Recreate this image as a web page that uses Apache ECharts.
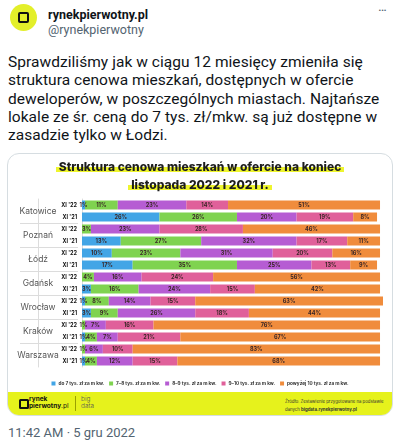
<!DOCTYPE html>
<html><head><meta charset="utf-8">
<script src="https://cdn.jsdelivr.net/npm/echarts@6/dist/echarts.min.js"></script>
<style>
html,body{margin:0;padding:0;background:#fff;}
body{width:400px;height:448px;position:relative;overflow:hidden;font-family:Roboto,"Noto Sans",sans-serif;color:#0f1419;}
.abs{position:absolute;}
#avatar{left:10px;top:4px;width:27px;height:27px;border-radius:50%;background:#e3ef2a;}
#avatar .ic{position:absolute;left:8px;top:8px;width:7px;height:7px;border:2.5px solid #111;border-radius:2px;}
#name{left:48px;top:7px;font-weight:bold;font-size:12.5px;}
#handle{left:48px;top:22px;font-size:12.5px;color:#536471;}
#dots{left:378px;top:3px;font-size:14px;color:#536471;letter-spacing:-1px;}
#text{left:8px;top:53px;font-size:15.5px;line-height:18.3px;white-space:nowrap;letter-spacing:0.05px;}
#card{left:7px;top:153px;width:384px;height:261px;border:1px solid #d6dde1;border-radius:12px;overflow:hidden;}
#title{left:0;top:4px;width:384px;text-align:center;font-family:Inter,"Noto Sans",sans-serif;font-weight:800;font-size:12px;line-height:17.5px;color:#1d1d1d;letter-spacing:0;}
#title span{background:linear-gradient(to bottom,transparent 55%,#eef52e 55%,#eef52e 90%,transparent 90%);padding:0 3px;}
#chart{left:0;top:0;width:384px;height:239px;}
#footer{left:0;top:238px;width:384px;height:23px;background:#e6f21c;}
#time{left:8px;top:425px;font-size:13px;color:#536471;}
</style></head>
<body>
<div id="avatar" class="abs"><div class="ic"></div></div>
<div id="name" class="abs">rynekpierwotny.pl</div>
<div id="handle" class="abs">@rynekpierwotny</div>
<div id="dots" class="abs">···</div>
<div id="text" class="abs">Sprawdziliśmy jak w ciągu 12 miesięcy zmieniła się<br>struktura cenowa mieszkań, dostępnych w ofercie<br>deweloperów, w poszczególnych miastach. Najtańsze<br>lokale ze śr. ceną do 7 tys. zł/mkw. są już dostępne w<br>zasadzie tylko w Łodzi.</div>
<div id="card" class="abs">
  <div id="chart" class="abs"></div>
  <div id="title" class="abs"><span>Struktura cenowa mieszkań w ofercie na koniec</span><br><span>listopada 2022 i 2021 r.</span></div>
  <div id="footer" class="abs">
    <div class="abs" style="left:11px;top:7px;width:6px;height:6px;border:2px solid #111;border-radius:1.5px;"></div>
    <div class="abs" style="left:21px;top:4px;font-family:Inter,sans-serif;font-weight:700;font-size:6.5px;line-height:7px;color:#111;">rynek<br>pierwotny<span style="font-weight:400">.pl</span></div>
    <div class="abs" style="left:67px;top:4px;width:1px;height:15px;background:#9aa100;"></div>
    <div class="abs" style="left:73px;top:4px;font-family:Inter,sans-serif;font-weight:300;font-size:6.5px;line-height:7px;color:#555;">big<br>data</div>
    <div class="abs" style="left:277px;top:6px;font-family:Inter,sans-serif;font-size:4.3px;line-height:8px;color:#333;white-space:nowrap;">Źródło: Zestawienie przygotowane na podstawie<br>danych <b>bigdata.rynekpierwotny.pl</b></div>
  </div>
</div>
<div id="time" class="abs">11:42 AM · 5 gru 2022</div>
<script>
const cities = ['Katowice','Poznań','Łódź','Gdańsk','Wrocław','Kraków','Warszawa'];
const periods = ["XI '22","XI '21"];
const seriesNames = ['do 7 tys. zł za m kw.','7–8 tys. zł za m kw.','8–9 tys. zł za m kw.','9–10 tys. zł za m kw.','powyżej 10 tys. zł za m kw.'];
const upTo7 =   [1,26,0,13,10,17,0,3,1,3,0,1,0,1];
const from7to8 =[11,26,3,27,23,35,4,16,8,9,1,4,1,4];
const from8to9 =[23,20,23,32,31,25,16,24,14,26,7,7,6,12];
const from9to10=[14,19,28,17,20,13,24,15,15,18,16,21,10,15];
const above10 = [51,8,46,11,16,9,56,42,63,44,76,67,83,68];
const colors = ['#42a5e6','#7fd350','#b65cd3','#e0609a','#f08c3c'];

const rowLabels = [];
cities.forEach(() => periods.forEach(p => rowLabels.push(p)));
const values = [upTo7, from7to8, from8to9, from9to10, above10];

const chart = echarts.init(document.getElementById('chart'));
const lbl = {
  show: true, position: 'inside', fontSize: 5.5, fontWeight: 'bold',
  fontFamily: 'Inter, sans-serif', color: '#3a2626',
  formatter: p => p.value > 0 ? p.value + '%' : ''
};
chart.setOption({
  animation: false,
  color: colors,
  legend: {
    top: 222, left: 'center', itemWidth: 4, itemHeight: 4, itemGap: 5,
    icon: 'rect',
    textStyle: {fontSize: 4.7, fontWeight: 'bold', fontFamily: 'Inter, sans-serif', color: '#333', padding:[0,0,0,-2]},
    data: seriesNames
  },
  grid: [
    {left: 74, width: 301, top: 45, height: 168},
    {left: 12, width: 58, top: 45, height: 168}
  ],
  xAxis: [
    {type: 'value', min: 0, max: 101, show: false, gridIndex: 0},
    {type: 'value', show: false, gridIndex: 1}
  ],
  yAxis: [
    {type: 'category', data: rowLabels, inverse: true, gridIndex: 0,
     axisLine: {show: true, lineStyle: {color: '#dcdcdc'}}, axisTick: {show: false},
     axisLabel: {fontSize: 5.5, fontWeight: 'bold', color: '#111', margin: 5, fontFamily: 'Inter, sans-serif'}},
    {type: 'category', data: cities, inverse: true, gridIndex: 1, position: 'right', offset: -18,
     axisLine: {show: true, lineStyle: {color: '#dcdcdc'}}, axisTick: {show: false},
     splitLine: {show: true, showMinLine: false, showMaxLine: false, lineStyle: {color: '#dcdcdc'}},
     axisLabel: {inside: true, align: 'center', margin: 22, fontSize: 8.5, color: '#555', fontFamily: 'Inter, sans-serif'}}
  ],
  series: seriesNames.map((n, i) => ({
    name: n, type: 'bar', stack: 'all', xAxisIndex: 0, yAxisIndex: 0,
    barWidth: 9, data: values[i], label: lbl
  }))
});
</script>
</body></html>
